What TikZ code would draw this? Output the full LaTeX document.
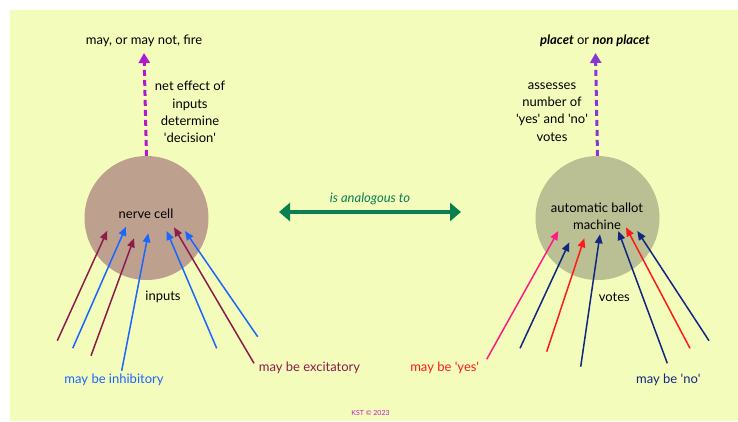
\documentclass[tikz,border=0pt]{standalone}
\usepackage{fontspec}
\setmainfont{Lato}
\usetikzlibrary{arrows.meta}
\definecolor{bgyellow}{HTML}{F4FCBC}
\definecolor{cellbrown}{HTML}{BEA08F}
\definecolor{ballotolive}{HTML}{BBBF94}
\definecolor{maroonin}{HTML}{8C1C4C}
\definecolor{bluein}{HTML}{1A66FF}
\definecolor{navyv}{HTML}{12267F}
\definecolor{redv}{HTML}{FF1A1A}
\definecolor{pinkv}{HTML}{FF1A85}
\definecolor{greenan}{HTML}{0A7F50}
\definecolor{magdash}{HTML}{B318CC}
\definecolor{violetdash}{HTML}{8A36D0}
\definecolor{kstpurple}{HTML}{C020C0}
\newcommand{\sq}{\textquotesingle}
\begin{document}
\begin{tikzpicture}[x=1pt,y=-1pt,
  lbl/.style={font=\fontsize{13}{17.3}\selectfont, align=center, inner sep=0pt},
  blob/.style={circle, minimum size=124pt, inner sep=0pt},
  inarrow/.style={line width=1.5pt, -{Triangle[length=9pt,width=7.5pt]}},
  dasharrow/.style={line width=3pt, dash pattern=on 6pt off 4pt, -{Triangle[length=10pt,width=11pt]}},
  analog/.style={line width=4pt, {Triangle[length=11pt,width=18pt]}-{Triangle[length=11pt,width=18pt]}}]
\useasboundingbox (0,0) rectangle (738,421);
\fill[bgyellow] (10,10) rectangle (738,421);

% blobs
\node[blob, fill=cellbrown] (cell) at (146.5,218) {};
\node[blob, fill=ballotolive] (ballot) at (597.5,218) {};
\node[lbl] (celltxt) at (146,214) {nerve cell};
\node[lbl] (ballottxt) at (597,216) {automatic ballot\\machine};

% top labels
\node[lbl] (fire) at (144,41) {may, or may not, fire};
\node[lbl] (placet) at (595,41) {\textbf{\textit{placet}} or \textbf{\textit{non placet}}};
\node[lbl] (neteffect) at (190,112) {net effect of\\inputs\\determine\\\sq decision\sq};
\node[lbl] (assess) at (552,112) {assesses\\number of\\\sq yes\sq{} and \sq no\sq\\votes};

% dashed arrows
\coordinate (firetip) at (144,53);
\coordinate (placettip) at (595.5,53);
\draw[dasharrow, magdash] (cell.north) -- (firetip);
\draw[dasharrow, violetdash] (ballot.north) -- (placettip);

% analogy
\coordinate (anL) at (279,212);
\coordinate (anR) at (461,212);
\draw[analog, greenan] (anL) -- (anR);
\node[lbl, text=greenan, font=\fontsize{13}{14}\selectfont\itshape] (analogtxt) at (370,199) {is analogous to};

% left inputs
\coordinate (a1t) at (57.3,340.7);  \coordinate (a1h) at (107.3,230.7);
\coordinate (a2t) at (72.7,348.3);  \coordinate (a2h) at (126,226.7);
\coordinate (a3t) at (91,355.7);    \coordinate (a3h) at (134,238.3);
\coordinate (a4t) at (121.7,370.7); \coordinate (a4h) at (148.3,233.3);
\coordinate (a5t) at (216.7,348.3); \coordinate (a5h) at (166.7,231);
\coordinate (a6t) at (254,363.3);   \coordinate (a6h) at (174,227.3);
\coordinate (a7t) at (257.7,336.7); \coordinate (a7h) at (185,231);
\draw[inarrow, maroonin] (a1t) -- (a1h);
\draw[inarrow, bluein] (a2t) -- (a2h);
\draw[inarrow, maroonin] (a3t) -- (a3h);
\draw[inarrow, bluein] (a4t) -- (a4h);
\draw[inarrow, bluein] (a5t) -- (a5h);
\draw[inarrow, maroonin] (a6t) -- (a6h);
\draw[inarrow, bluein] (a7t) -- (a7h);

\node[lbl] (inputs) at (163,297) {inputs};
\node[lbl, text=bluein] (inhib) at (114,380) {may be inhibitory};
\node[lbl, text=maroonin] (excit) at (309.5,368) {may be excitatory};

% right votes
\coordinate (b1t) at (486.7,359.3); \coordinate (b1h) at (558.3,231);
\coordinate (b2t) at (520,348.3);   \coordinate (b2h) at (569.3,242.3);
\coordinate (b3t) at (546.7,351.7); \coordinate (b3h) at (584.3,238.3);
\coordinate (b4t) at (580.7,366.7); \coordinate (b4h) at (600,234.3);
\coordinate (b5t) at (667.3,363.3); \coordinate (b5h) at (618.3,231);
\coordinate (b6t) at (690,348.3);   \coordinate (b6h) at (626,227.3);
\coordinate (b7t) at (709,340.7);   \coordinate (b7h) at (637.3,231);
\draw[inarrow, pinkv] (b1t) -- (b1h);
\draw[inarrow, navyv] (b2t) -- (b2h);
\draw[inarrow, redv] (b3t) -- (b3h);
\draw[inarrow, navyv] (b4t) -- (b4h);
\draw[inarrow, navyv] (b5t) -- (b5h);
\draw[inarrow, redv] (b6t) -- (b6h);
\draw[inarrow, navyv] (b7t) -- (b7h);

\node[lbl] (votes) at (614.3,297) {votes};
\node[lbl, text=redv] (yes) at (444.7,368) {may be \sq yes\sq};
\node[lbl, text=navyv] (no) at (668.3,380) {may be \sq no\sq};

\node[lbl, text=kstpurple, font=\fontsize{7}{8}\selectfont] (kst) at (370.5,413.3) {KST © 2023};
\end{tikzpicture}
\end{document}
